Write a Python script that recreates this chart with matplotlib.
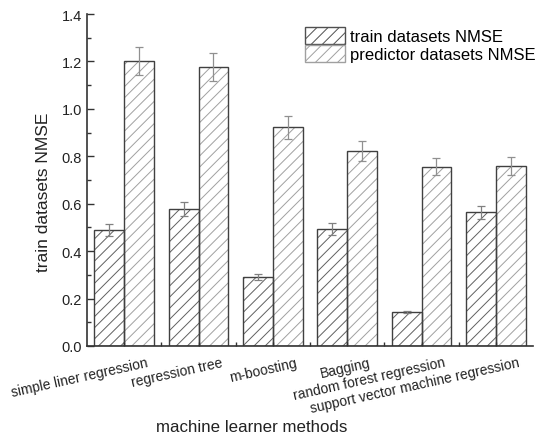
import numpy as np
import matplotlib
matplotlib.use('Agg')
import matplotlib.pyplot as plt
from matplotlib.patches import Patch
from matplotlib.ticker import MultipleLocator, FormatStrFormatter

plt.rcParams['font.family'] = ['Liberation Sans', 'DejaVu Sans']
plt.rcParams['hatch.linewidth'] = 0.7

# 数据
methods = ['simple liner regression', 'regression tree', 'm-boosting', 'Bagging',
           'random forest regression', 'support vector machine regression']
train_nmse = [0.49, 0.577, 0.292, 0.495, 0.145, 0.564]
train_err = [0.026, 0.029, 0.013, 0.025, 0.004, 0.028]
pred_nmse = [1.202, 1.175, 0.922, 0.824, 0.756, 0.760]
pred_err = [0.059, 0.059, 0.048, 0.042, 0.036, 0.038]

fig = plt.figure(figsize=(5.37, 4.39), dpi=100)
ax = fig.add_axes([0.162, 0.2096, 0.8306, 0.7562])

x = np.arange(len(methods))
w = 0.4
edge = '#404040'

# 先画阴影, 再画边框
ax.bar(x - w / 2, train_nmse, w, color='white', hatch='///', edgecolor='#606060', linewidth=0)
ax.bar(x + w / 2, pred_nmse, w, color='white', hatch='///', edgecolor='#a0a0a0', linewidth=0)
ax.bar(x - w / 2, train_nmse, w, fill=False, edgecolor=edge, linewidth=1.0)
ax.bar(x + w / 2, pred_nmse, w, fill=False, edgecolor=edge, linewidth=1.0)
ax.errorbar(x - w / 2, train_nmse, yerr=train_err, fmt='none', ecolor='#808080',
            elinewidth=0.9, capsize=3, capthick=0.9)
ax.errorbar(x + w / 2, pred_nmse, yerr=pred_err, fmt='none', ecolor='#909090',
            elinewidth=0.9, capsize=3, capthick=0.9)

ax.set_xlim(-0.5, 5.5)
ax.set_ylim(0, 1.4)
ax.yaxis.set_major_locator(MultipleLocator(0.2))
ax.yaxis.set_minor_locator(MultipleLocator(0.1))
ax.yaxis.set_major_formatter(FormatStrFormatter('%.1f'))
ax.set_xticks(x)
ax.set_xticks(x[:-1] + 0.5, minor=True)
ax.set_xticklabels([])
ax.tick_params(axis='y', which='major', labelsize=10.5, labelcolor='#222222')
ax.tick_params(axis='both', which='major', direction='in', length=5, width=1.0, color='#333333')
ax.tick_params(axis='both', which='minor', direction='in', length=3, width=1.0, color='#333333')
ax.tick_params(axis='x', which='both', length=3)

for s in ['top', 'right']:
    ax.spines[s].set_visible(False)
for s in ['left', 'bottom']:
    ax.spines[s].set_color('#333333')
    ax.spines[s].set_linewidth(1.2)

# 旋转的类别标签
for i, name in enumerate(methods):
    px, py = ax.transData.transform((x[i], 0))
    fx = (px + 22) / fig.bbox.width
    fy = (py - 9) / fig.bbox.height
    fig.text(fx, fy, name, rotation=12.5, ha='right', va='top', rotation_mode='anchor',
             fontsize=10, color='#222222')

fig.text(252 / 537, 1 - 428 / 439, 'machine learner methods', ha='center', va='center',
         fontsize=12.2, color='#222222')
fig.text(44 / 537, 1 - 192 / 439, 'train datasets NMSE', ha='center', va='center',
         rotation=90, fontsize=12.5, color='#222222')

handles = [Patch(facecolor='white', edgecolor='#505050', hatch='///', linewidth=1.0),
           Patch(facecolor='white', edgecolor='#a0a0a0', hatch='///', linewidth=1.0)]
ax.legend(handles, ['train datasets NMSE', 'predictor datasets NMSE'], loc='upper left',
          bbox_to_anchor=(0.489, 0.961), frameon=False, fontsize=12, handlelength=2.4,
          handleheight=1.2, handletextpad=0.3, labelspacing=0.05, borderaxespad=0,
          borderpad=0)

fig.savefig('out.png', dpi=100)
